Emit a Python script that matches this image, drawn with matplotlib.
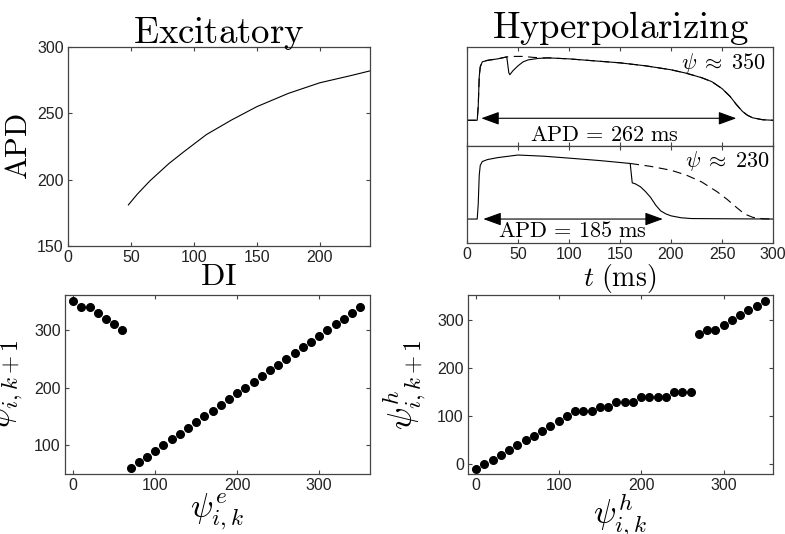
### APD restitution + maps, excitatory vs hyperpolarizing
import numpy as np
import matplotlib
matplotlib.use("Agg")
import matplotlib.pyplot as plt

plt.rcParams['mathtext.fontset'] = 'cm'
plt.rcParams['font.family'] = 'Liberation Sans'
plt.rcParams['axes.edgecolor'] = '#444444'
plt.rcParams['axes.linewidth'] = 0.9
plt.rcParams['xtick.color'] = '#444444'
plt.rcParams['ytick.color'] = '#444444'
plt.rcParams['xtick.labelcolor'] = '#222222'
plt.rcParams['ytick.labelcolor'] = '#222222'

### restitution curve (top left)
di = [48, 55, 65, 80, 92, 110, 130, 150, 175, 200, 225, 240]
apd = [181, 189, 199, 212, 221, 234, 245, 255, 265, 273, 278.5, 282]

### voltage traces, psi ~ 350 (normalised)
t_a = [0, 10, 11, 12, 13, 15, 20, 30, 39, 41, 42, 45, 50, 55, 60, 70, 80, 100, 125, 150,
       175, 200, 215, 230, 240, 250, 258, 264, 270, 275, 280, 290, 300]
v_a = [0.26, 0.26, 0.40, 0.70, 0.80, 0.85, 0.865, 0.88, 0.90, 0.74, 0.72, 0.76, 0.81, 0.85,
       0.87, 0.885, 0.89, 0.88, 0.86, 0.84, 0.81, 0.77, 0.735, 0.69, 0.65, 0.58, 0.50,
       0.42, 0.35, 0.31, 0.285, 0.265, 0.26]
t_a_d = [0, 10, 11, 12, 13, 15, 20, 30, 39, 45, 55, 65, 75, 80, 100, 125, 150,
         175, 200, 215, 230, 240, 250, 258, 264, 270, 275, 280, 290, 300]
v_a_d = [0.26, 0.26, 0.40, 0.70, 0.80, 0.85, 0.865, 0.88, 0.90, 0.905, 0.905, 0.895,
         0.89, 0.89, 0.88, 0.86, 0.84, 0.81, 0.77, 0.735, 0.69, 0.65, 0.58, 0.50,
         0.42, 0.35, 0.31, 0.285, 0.265, 0.26]

### voltage traces, psi ~ 230
t_b = [0, 10, 11, 12, 13, 15, 20, 30, 50, 75, 100, 130, 160, 161, 162, 165, 170, 175,
       180, 185, 190, 195, 200, 210, 220, 250, 300]
v_b = [0.247, 0.247, 0.40, 0.70, 0.80, 0.84, 0.86, 0.88, 0.907, 0.895, 0.875, 0.85, 0.82,
       0.72, 0.62, 0.61, 0.58, 0.53, 0.47, 0.39, 0.33, 0.30, 0.28, 0.26, 0.252, 0.25, 0.247]
t_b_d = [160, 180, 200, 215, 230, 245, 255, 265, 272, 280, 290, 300]
v_b_d = [0.82, 0.79, 0.75, 0.70, 0.63, 0.53, 0.45, 0.36, 0.30, 0.265, 0.25, 0.247]

### maps (bottom)
psi_e = np.arange(0, 360, 10)
psi_e_next = [350, 340, 340, 330, 320, 310, 300] + list(range(60, 350, 10))
psi_h = np.arange(0, 360, 10)
psi_h_next = [-10, 0, 10, 20, 30, 40, 50, 60, 70, 80, 90, 100, 110, 110, 110, 120, 120,
              130, 130, 130, 140, 140, 140, 140, 150, 150, 150,
              270, 280, 280, 290, 300, 310, 320, 330, 340]

fig = plt.figure(figsize=(7.85, 5.34), dpi=100)

def style(ax, fs=11.5):
    ax.tick_params(direction='in', top=True, right=True, labelsize=fs, length=3, pad=3)

W = 785.0
H = 534.0
def box(l, r, t, b):
    return [l / W, 1 - b / H, (r - l) / W, (b - t) / H]

title_fs = 26.5
lab_fs = 22

### top left
ax1 = fig.add_axes(box(68, 370, 47, 246))
ax1.plot(di, apd, color='k', lw=0.8)
ax1.set_xlim(0, 240)
ax1.set_ylim(150, 300)
ax1.set_xticks([0, 50, 100, 150, 200])
ax1.set_yticks([150, 200, 250, 300])
style(ax1)
ax1.set_title(r'$\mathrm{Excitatory}$', fontsize=title_fs, pad=3)
ax1.set_xlabel(r'$\mathrm{DI}$', fontsize=lab_fs + 1, labelpad=-2)
ax1.set_ylabel(r'$\mathrm{APD}$', fontsize=lab_fs, labelpad=2)

### top right, two stacked
ax2 = fig.add_axes(box(467, 773, 47, 146))
ax3 = fig.add_axes(box(467, 773, 146, 243))
ax2.plot(t_a_d, v_a_d, color='k', lw=0.8, ls=(0, (8, 5)))
ax2.plot(t_a, v_a, color='k', lw=0.8)
ax3.plot(t_b_d, v_b_d, color='k', lw=0.8, ls=(0, (8, 5)))
ax3.plot(t_b, v_b, color='k', lw=0.8)
for ax in (ax2, ax3):
    ax.set_xlim(0, 300)
    ax.set_ylim(0, 1)
    ax.set_yticks([])
    ax.set_xticks(np.arange(0, 301, 50))
    style(ax)
ax2.tick_params(labelbottom=False)
ax2.set_title(r'$\mathrm{Hyperpolarizing}$', fontsize=title_fs, pad=3)
ax3.set_xlabel(r'$t\ \mathrm{(ms)}$', fontsize=lab_fs - 2, labelpad=0)

arrow = dict(arrowstyle='<|-|>,head_length=1.1,head_width=0.4', color='k', lw=0.8,
             shrinkA=0, shrinkB=0)
ax2.annotate('', xy=(14, 0.28), xytext=(264, 0.28), arrowprops=arrow)
ax3.annotate('', xy=(16, 0.247), xytext=(192, 0.247), arrowprops=arrow)
ax2.text(135, 0.11, r'$\mathrm{APD}\,=\,262\ \mathrm{ms}$', fontsize=16,
         ha='center', va='center')
ax3.text(103, 0.12, r'$\mathrm{APD}\,=\,185\ \mathrm{ms}$', fontsize=16,
         ha='center', va='center')
ax2.text(293, 0.84, r'$\psi\;\approx\;350$', fontsize=16, ha='right', va='center')
ax3.text(297, 0.85, r'$\psi\;\approx\;230$', fontsize=16, ha='right', va='center')

### bottom left
ax4 = fig.add_axes(box(65, 370, 295, 474))
ax4.plot(psi_e, psi_e_next, 'o', color='k', ms=5.5)
ax4.set_xlim(-10, 362)
ax4.set_ylim(50, 361)
ax4.set_xticks([0, 100, 200, 300])
ax4.set_yticks([100, 200, 300])
style(ax4)
ax4.set_xlabel(r'$\psi^e_{i,k}$', fontsize=lab_fs + 2, labelpad=-1)
ax4.set_ylabel(r'$\psi^e_{i,k+1}$', fontsize=lab_fs + 2)
ax4.yaxis.set_label_coords(-0.13, 0.5)

### bottom right
ax5 = fig.add_axes(box(468, 773, 295, 474))
ax5.plot(psi_h, psi_h_next, 'o', color='k', ms=5.5)
ax5.set_xlim(-10, 360)
ax5.set_ylim(-20, 352)
ax5.set_xticks([0, 100, 200, 300])
ax5.set_yticks([0, 100, 200, 300])
style(ax5)
ax5.set_xlabel(r'$\psi^h_{i,k}$', fontsize=lab_fs + 2, labelpad=-1)
ax5.set_ylabel(r'$\psi^h_{i,k+1}$', fontsize=lab_fs + 2)
ax5.yaxis.set_label_coords(-0.13, 0.5)

plt.savefig("out.png", dpi=100)
